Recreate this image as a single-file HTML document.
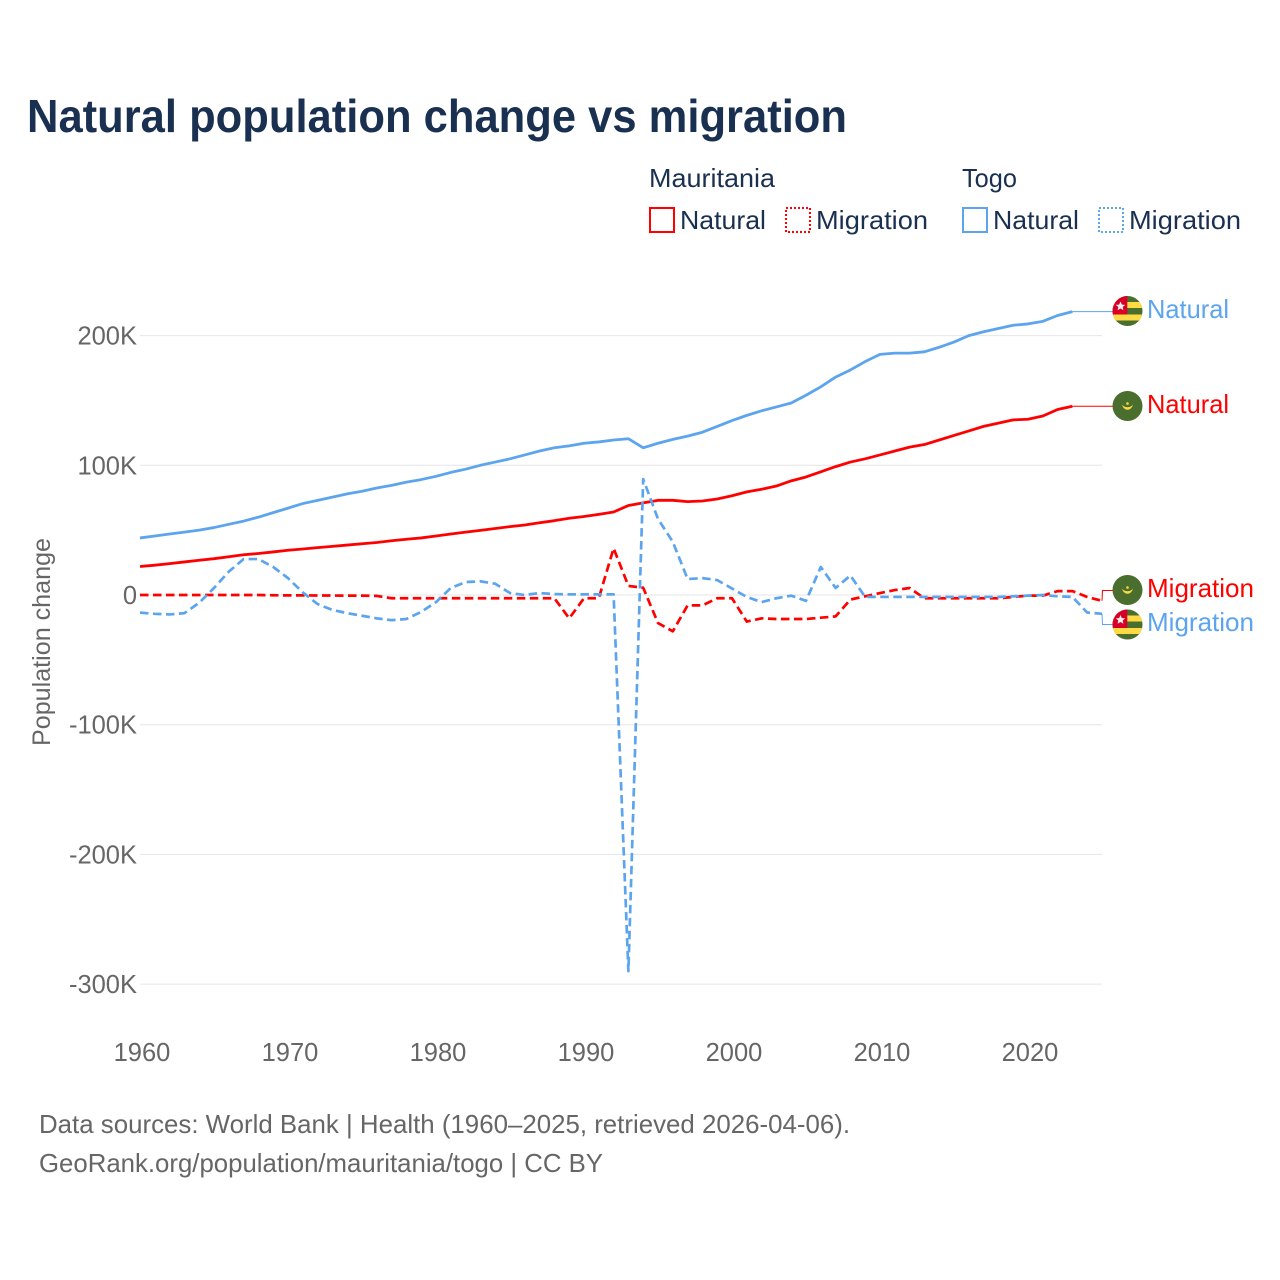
<!DOCTYPE html>
<html lang="en">
<head>
<meta charset="utf-8">
<title>Natural population change vs migration</title>
<style>
html,body{margin:0;padding:0;background:#fff;width:1280px;height:1280px;overflow:hidden}
svg{display:block}
text{font-family:"Liberation Sans",sans-serif}
.dark{fill:#1a3050}
.grey{fill:#666666}
</style>
</head>
<body>
<svg id="chart" xmlns="http://www.w3.org/2000/svg" width="1280" height="1280" viewBox="0 0 1280 1280">
  <rect x="0" y="0" width="1280" height="1280" fill="#ffffff"/>
  <text class="dark" x="27" y="132" font-size="46" font-weight="bold" textLength="820" lengthAdjust="spacingAndGlyphs">Natural population change vs migration</text>

  <g font-size="26">
    <text class="dark" x="649" y="187" textLength="126" lengthAdjust="spacingAndGlyphs">Mauritania</text>
    <text class="dark" x="962" y="187" textLength="55" lengthAdjust="spacingAndGlyphs">Togo</text>
    <rect x="650" y="208" width="24" height="24" fill="none" stroke="#ff0000" stroke-width="2"/>
    <text class="dark" x="680" y="229" textLength="86" lengthAdjust="spacingAndGlyphs">Natural</text>
    <rect x="786" y="208" width="24" height="24" fill="none" stroke="#ff0000" stroke-width="2" stroke-dasharray="2 2"/>
    <text class="dark" x="816" y="229" textLength="112" lengthAdjust="spacingAndGlyphs">Migration</text>
    <rect x="963" y="208" width="24" height="24" fill="none" stroke="#5ca5ee" stroke-width="2"/>
    <text class="dark" x="993" y="229" textLength="86" lengthAdjust="spacingAndGlyphs">Natural</text>
    <rect x="1099" y="208" width="24" height="24" fill="none" stroke="#5ca5ee" stroke-width="2" stroke-dasharray="2 2"/>
    <text class="dark" x="1129" y="229" textLength="112" lengthAdjust="spacingAndGlyphs">Migration</text>
  </g>

  <g id="grid"></g>
  <g id="yticks"></g>
  <g id="xticks"></g>
  <text class="grey" transform="translate(50,642) rotate(-90)" text-anchor="middle" font-size="25" textLength="208" lengthAdjust="spacingAndGlyphs">Population change</text>

  <g id="series"></g>

  <defs>
    <clipPath id="clip-togo-1"><circle cx="1127.5" cy="311" r="15"/></clipPath>
    <clipPath id="clip-togo-2"><circle cx="1127.5" cy="624.5" r="15"/></clipPath>
  </defs>

  <g clip-path="url(#clip-togo-1)">
    <rect x="1112" y="296" width="31" height="31" fill="#496e2d"/>
    <rect x="1112" y="302" width="31" height="6" fill="#ffda44"/>
    <rect x="1112" y="314.5" width="31" height="6" fill="#ffda44"/>
    <rect x="1112" y="296" width="15.3" height="18.5" fill="#d80027"/>
    <polygon fill="#f0f0f0" points="1120.5,301.5 1121.9,304.6 1125.2,304.9 1122.7,307 1123.4,310.2 1120.5,308.5 1117.6,310.2 1118.3,307 1115.8,304.9 1119.1,304.6"/>
  </g>
  <g>
    <circle cx="1127.5" cy="406" r="15" fill="#496e2d"/>
    <path d="M1122 404.5a5.6 6.5 0 0 0 11 0a6 4.5 0 0 1 -11 0z" fill="#ffda44"/>
    <circle cx="1127.5" cy="403.5" r="1.3" fill="#ffda44"/>
  </g>
  <g>
    <circle cx="1127.5" cy="590" r="15" fill="#496e2d"/>
    <path d="M1122 588.5a5.6 6.5 0 0 0 11 0a6 4.5 0 0 1 -11 0z" fill="#ffda44"/>
    <circle cx="1127.5" cy="587.5" r="1.3" fill="#ffda44"/>
  </g>
  <g clip-path="url(#clip-togo-2)">
    <rect x="1112" y="609.5" width="31" height="31" fill="#496e2d"/>
    <rect x="1112" y="615.5" width="31" height="6" fill="#ffda44"/>
    <rect x="1112" y="628" width="31" height="6" fill="#ffda44"/>
    <rect x="1112" y="609.5" width="15.3" height="18.5" fill="#d80027"/>
    <polygon fill="#f0f0f0" points="1120.5,615 1121.9,618.1 1125.2,618.4 1122.7,620.5 1123.4,623.7 1120.5,622 1117.6,623.7 1118.3,620.5 1115.8,618.4 1119.1,618.1"/>
  </g>

  <g font-size="26">
    <text fill="#5ca5ee" x="1147" y="318" textLength="82" lengthAdjust="spacingAndGlyphs">Natural</text>
    <text fill="#ff0000" x="1147" y="413" textLength="82" lengthAdjust="spacingAndGlyphs">Natural</text>
    <text fill="#ff0000" x="1147" y="597" textLength="107" lengthAdjust="spacingAndGlyphs">Migration</text>
    <text fill="#5ca5ee" x="1147" y="631" textLength="107" lengthAdjust="spacingAndGlyphs">Migration</text>
  </g>

  <g font-size="26" class="grey">
    <text class="grey" x="39" y="1133" textLength="811" lengthAdjust="spacingAndGlyphs">Data sources: World Bank | Health (1960–2025, retrieved 2026-04-06).</text>
    <text class="grey" x="39" y="1172" textLength="564" lengthAdjust="spacingAndGlyphs">GeoRank.org/population/mauritania/togo | CC BY</text>
  </g>
</svg>

<script>
const startYear = 1960;
const yTickValues = [200, 100, 0, -100, -200, -300];
const yTickLabels = ["200K", "100K", "0", "-100K", "-200K", "-300K"];
const xTickYears = [1960, 1970, 1980, 1990, 2000, 2010, 2020];

// All series in thousands, one value per year from 1960
const togoNatural = [44,45.5,47,48.5,50,52,54.5,57,60,63.5,67,70.5,73,75.5,78,80,82.5,84.5,87,89,91.5,94.5,97,100,102.5,105,108,111,113.5,115,117,118,119.5,120.5,113.5,117,120,122.5,125.5,130,134.5,138.5,142,145,148,154,160.5,168,173.5,180,185.5,186.5,186.5,187.5,191,195,200,203,205.5,208,209,211,215.5,218.5];
const mauritaniaNatural = [22,23,24.2,25.5,26.8,28,29.5,31,32,33.2,34.5,35.5,36.5,37.5,38.5,39.5,40.5,41.8,43,44,45.5,47,48.5,49.8,51.3,52.7,54,55.7,57.3,59.2,60.5,62.2,64,69,71,73,73,72,72.5,74,76.5,79.5,81.5,84,88,91,95,99,102.5,105,108,111,114,116,119.5,123,126.5,130,132.5,135,135.5,138,143,145.5];
const togoMigration = [-13.6,-14.5,-15,-14,-6,5.4,18,27.7,27.7,21.6,13,2,-7,-11.5,-14,-16,-18,-19.4,-18.5,-13,-5.5,5.4,10,10.5,8.7,1.5,0,1.5,0.7,0.5,0.5,0.5,0.5,-290,89.4,58.6,41,12.3,13,11.5,5,-1.5,-5.5,-2.5,-0.5,-4.5,21.6,5.4,15,-1.5,-1.5,-1.5,-1.5,-1.5,-1.5,-1.5,-1.5,-1.5,-1.5,-1,-0.5,0,-1,-1.5,-13.5,-14.5];
const mauritaniaMigration = [0,0,0,0,0,0,0,0,0,-0.2,-0.3,-0.3,-0.4,-0.4,-0.5,-0.5,-0.7,-2.5,-2.5,-2.5,-2.5,-2.5,-2.5,-2.5,-2.5,-2.5,-2.5,-2.5,-2.5,-18,-2.5,-2.5,36,7,5.6,-21.6,-28,-8,-8,-2.5,-2.5,-20.5,-18,-18.5,-18.5,-18.5,-17.5,-16.5,-3.5,-1,1.5,3.8,5.4,-2.5,-2.5,-2.5,-2.5,-2.5,-2.5,-1.5,-0.5,-0.5,3,3,-1.5,-4.5];

const NS = "http://www.w3.org/2000/svg";
const COLOR_RED = "#ff0000";
const COLOR_BLUE = "#5ca5ee";

function xScale(year) { return 140 + 14.8 * (year - 1960); }
function yScale(value) { return 595 - 1.297 * value; }
function make(tag, attrs) {
  const el = document.createElementNS(NS, tag);
  for (const k in attrs) el.setAttribute(k, attrs[k]);
  return el;
}
function pathFrom(values) {
  return values.map(function (v, i) {
    return (i ? "L" : "M") + xScale(startYear + i).toFixed(2) + " " + yScale(v).toFixed(2);
  }).join("");
}

const grid = document.getElementById("grid");
const yticks = document.getElementById("yticks");
yTickValues.forEach(function (v, i) {
  const line = make("line", {x1: 140, x2: 1102, y1: yScale(v), y2: yScale(v), stroke: "#e6e6e6", "stroke-width": 1});
  
  
  grid.appendChild(line);
  const t = make("text", {x: 137, y: yScale(v) + 9, "text-anchor": "end", "font-size": 25.5, class: "grey"});
  
  
  t.textContent = yTickLabels[i];
  yticks.appendChild(t);
});

const xticks = document.getElementById("xticks");
xTickYears.forEach(function (yr) {
  const t = make("text", {x: xScale(yr) + 2, y: 1061, "text-anchor": "middle", "font-size": 25.5, class: "grey"});
  
  
  t.textContent = yr;
  xticks.appendChild(t);
});

const series = document.getElementById("series");

function addConnector(d, color, name) {
  const c = make("path", {d: d, fill: "none", stroke: color, "stroke-width": 1});
  
  
  series.appendChild(c);
}
function endPoint(values) {
  return [xScale(startYear + values.length - 1), yScale(values[values.length - 1])];
}
const endTN = endPoint(togoNatural);
const endMN = endPoint(mauritaniaNatural);
const endTM = endPoint(togoMigration);
const endMM = endPoint(mauritaniaMigration);
addConnector("M" + endTN[0] + " " + endTN[1] + "L1113 " + endTN[1], COLOR_BLUE, "connector-togo-natural");
addConnector("M" + endMN[0] + " " + endMN[1] + "L1113 " + endMN[1], COLOR_RED, "connector-mauritania-natural");
addConnector("M" + endMM[0] + " " + endMM[1] + "L1102.5 590.5L1113 590.5", COLOR_RED, "connector-mauritania-migration");
addConnector("M" + endTM[0] + " " + endTM[1] + "L1102.5 624.5L1113 624.5", COLOR_BLUE, "connector-togo-migration");

const lineTN = make("path", {d: pathFrom(togoNatural), fill: "none", stroke: COLOR_BLUE, "stroke-width": 2.8, "stroke-linejoin": "round"});


series.appendChild(lineTN);

const lineMN = make("path", {d: pathFrom(mauritaniaNatural), fill: "none", stroke: COLOR_RED, "stroke-width": 2.8, "stroke-linejoin": "round"});


series.appendChild(lineMN);

const lineMM = make("path", {d: pathFrom(mauritaniaMigration), fill: "none", stroke: COLOR_RED, "stroke-width": 2.7, "stroke-dasharray": "8.5 4.5", "stroke-linejoin": "round"});


series.appendChild(lineMM);

const lineTM = make("path", {d: pathFrom(togoMigration), fill: "none", stroke: COLOR_BLUE, "stroke-width": 2.7, "stroke-dasharray": "8.5 4.5", "stroke-linejoin": "round"});


series.appendChild(lineTM);
</script>
</body>
</html>
